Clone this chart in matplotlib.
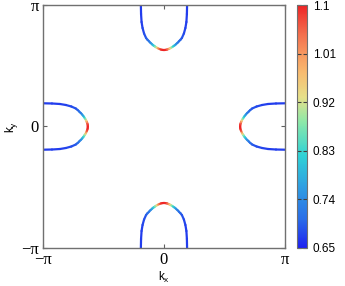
import numpy as np
import matplotlib
matplotlib.use('Agg')
import matplotlib.pyplot as plt
from matplotlib.collections import LineCollection
from matplotlib.colors import LinearSegmentedColormap, Normalize

# one pocket, half profile from the tip to the zone edge
# w = distance across the pocket axis, d = depth measured from the zone edge (rad)
pocket_w = [0.0, 0.039, 0.078, 0.116, 0.155, 0.194, 0.233, 0.272, 0.310,
            0.349, 0.388, 0.427, 0.465, 0.517, 0.556, 0.582, 0.595, 0.600]
pocket_d = [1.164, 1.161, 1.153, 1.138, 1.120, 1.099, 1.073, 1.047, 1.016,
            0.980, 0.939, 0.900, 0.853, 0.737, 0.595, 0.440, 0.233, 0.0]
pocket_val = [1.10, 1.10, 1.08, 1.04, 0.98, 0.91, 0.85, 0.80, 0.76,
              0.73, 0.71, 0.70, 0.69, 0.68, 0.675, 0.67, 0.67, 0.67]

cbar_ticks = [0.65, 0.74, 0.83, 0.92, 1.01, 1.1]
cbar_labels = ['0.65', '0.74', '0.83', '0.92', '1.01', '1.1']
vmin, vmax = 0.65, 1.1

# palette
pal_pos = [0.0, 0.12, 0.25, 0.38, 0.52, 0.62, 0.72, 0.80, 0.90, 1.0]
pal_col = ['#1e22f0', '#2a6ee8', '#2f9ee2', '#2fd2d6', '#8de8a8', '#e6e08a',
           '#f8bc70', '#f89860', '#f26448', '#ee2426']
cmap = LinearSegmentedColormap.from_list('pal', list(zip(pal_pos, pal_col)))
norm = Normalize(vmin, vmax)

fig = plt.figure(figsize=(3.45, 2.86), dpi=100)
ax = fig.add_axes([0.1246, 0.1329, 0.7014, 0.8496])
cax = fig.add_axes([0.861, 0.1329, 0.029, 0.8496])

w = np.array(pocket_w)
d = np.array(pocket_d)
v = np.array(pocket_val)
# full curve: mirror the half profile
ws = np.concatenate([-w[::-1], w[1:]])
ds = np.concatenate([d[::-1], d[1:]])
vs = np.concatenate([v[::-1], v[1:]])

pi = np.pi
pockets = [
    (ws, pi - ds),    # top
    (ws, -pi + ds),   # bottom
    (-pi + ds, ws),   # left
    (pi - ds, ws),    # right
]
for x, y in pockets:
    pts = np.column_stack([x, y]).reshape(-1, 1, 2)
    segs = np.concatenate([pts[:-1], pts[1:]], axis=1)
    lc = LineCollection(segs, cmap=cmap, norm=norm, linewidths=1.6,
                        capstyle='round', joinstyle='round')
    lc.set_array(0.5 * (vs[:-1] + vs[1:]))
    ax.add_collection(lc)

ax.set_xlim(-pi, pi)
ax.set_ylim(-pi, pi)
ax.set_xticks([-pi, 0, pi])
ax.set_yticks([-pi, 0, pi])
ax.set_xticklabels(['\u2212\u03c0', '0', '\u03c0'], family='Liberation Serif', fontsize=12)
ax.set_yticklabels(['\u2212\u03c0', '0', '\u03c0'], family='Liberation Serif', fontsize=12)
ax.tick_params(direction='in', top=True, right=True, length=3, width=0.8,
               color='#606060', pad=3)
for s in ax.spines.values():
    s.set_color('#707070')
    s.set_linewidth(1.0)
ax.set_xlabel('k$_\\mathregular{x}$', family='Liberation Sans', fontsize=8.5, labelpad=1)
ax.set_ylabel('k$_\\mathregular{y}$', family='Liberation Sans', fontsize=8.5, labelpad=1)

sm = plt.cm.ScalarMappable(norm=norm, cmap=cmap)
cb = fig.colorbar(sm, cax=cax)
cb.set_ticks(cbar_ticks)
cb.set_ticklabels(cbar_labels)
cax.tick_params(direction='in', left=True, right=True, length=3, width=0.8,
                color='#404040', labelsize=8.5, pad=4)
for t in cax.get_yticklabels():
    t.set_family('Liberation Sans')
cb.outline.set_edgecolor('#707070')
cb.outline.set_linewidth(0.8)

fig.savefig('out.png', dpi=100)
